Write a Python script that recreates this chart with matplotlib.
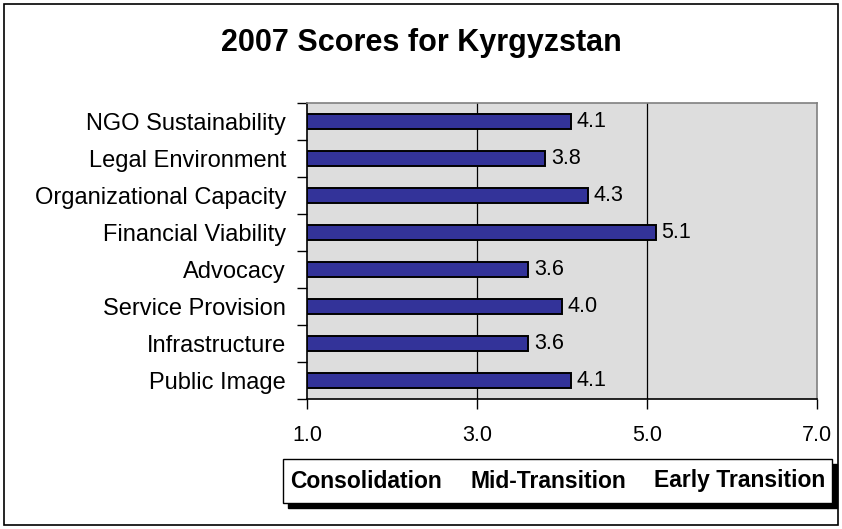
import matplotlib
matplotlib.use("Agg")
import matplotlib.pyplot as plt
from matplotlib.patches import Rectangle

plt.rcParams['font.family'] = ['Liberation Sans', 'DejaVu Sans']

categories = ["NGO Sustainability", "Legal Environment", "Organizational Capacity",
              "Financial Viability", "Advocacy", "Service Provision",
              "Infrastructure", "Public Image"]
scores = [4.1, 3.8, 4.3, 5.1, 3.6, 4.0, 3.6, 4.1]
x_ticks = [1.0, 3.0, 5.0, 7.0]
stages = ["Consolidation", "Mid-Transition", "Early Transition"]
title = "2007 Scores for Kyrgyzstan"

W, H = 842, 529
fig = plt.figure(figsize=(W / 100, H / 100), dpi=100)

# figure frame
fig.patches.append(Rectangle((4 / W, 4 / H), (838 - 4) / W, (525 - 4) / H,
                             transform=fig.transFigure, fill=False,
                             edgecolor='black', linewidth=1.2))

# plot area in pixel coordinates (left, top, right, bottom)
L, T, R, B = 307, 103, 817, 399
ax = fig.add_axes([L / W, 1 - B / H, (R - L) / W, (B - T) / H])
ax.set_facecolor('#DDDDDD')

n = len(categories)
ypos = list(range(n))[::-1]
ax.barh(ypos, [s - x_ticks[0] for s in scores], left=x_ticks[0], height=0.38,
        color='#333399', edgecolor='black', linewidth=1.4, zorder=3)

for y, s in zip(ypos, scores):
    ax.text(s + 0.07, y, f"{s:.1f}", va='center', ha='left', fontsize=15.5, zorder=4)

ax.set_xlim(x_ticks[0], x_ticks[-1])
ax.set_ylim(-0.5, n - 0.5)
for xv in x_ticks[1:-1]:
    ax.axvline(xv, color='black', linewidth=0.9, zorder=2)

ax.set_xticks(x_ticks)
ax.set_xticklabels([f"{v:.1f}" for v in x_ticks], fontsize=15.5)
ax.set_yticks(ypos)
ax.set_yticklabels(categories, fontsize=17)
ax.set_yticks([i - 0.5 for i in range(n + 1)], minor=True)
ax.tick_params(axis='y', which='major', length=0, pad=15)
ax.tick_params(axis='y', which='minor', length=7, width=1, direction='out', color='black')
ax.tick_params(axis='x', which='major', length=7, width=1, direction='out', pad=12)

for side in ['top', 'right']:
    ax.spines[side].set_color('#808080')
    ax.spines[side].set_linewidth(1.2)
for side in ['left', 'bottom']:
    ax.spines[side].set_color('black')
    ax.spines[side].set_linewidth(1.2)

fig.text(421 / W, 1 - 43 / H, title, ha='center', va='center',
         fontsize=22, fontweight='bold')

# stage legend box with shadow
bx0, by0, bx1, by1 = 283, 459, 832, 503
fig.patches.append(Rectangle(((bx0 + 5) / W, 1 - (by1 + 5) / H), (bx1 - bx0) / W,
                             (by1 - by0) / H, transform=fig.transFigure,
                             facecolor='black', edgecolor='black', zorder=1))
fig.patches.append(Rectangle((bx0 / W, 1 - by1 / H), (bx1 - bx0) / W,
                             (by1 - by0) / H, transform=fig.transFigure,
                             facecolor='white', edgecolor='black', linewidth=1, zorder=2))
stage_x = [366, 548, 740]
for sx, name in zip(stage_x, stages):
    fig.text(sx / W, 1 - 481 / H, name, ha='center', va='center',
             fontsize=16.5, fontweight='bold', zorder=3)

fig.savefig("out.png", dpi=100)
